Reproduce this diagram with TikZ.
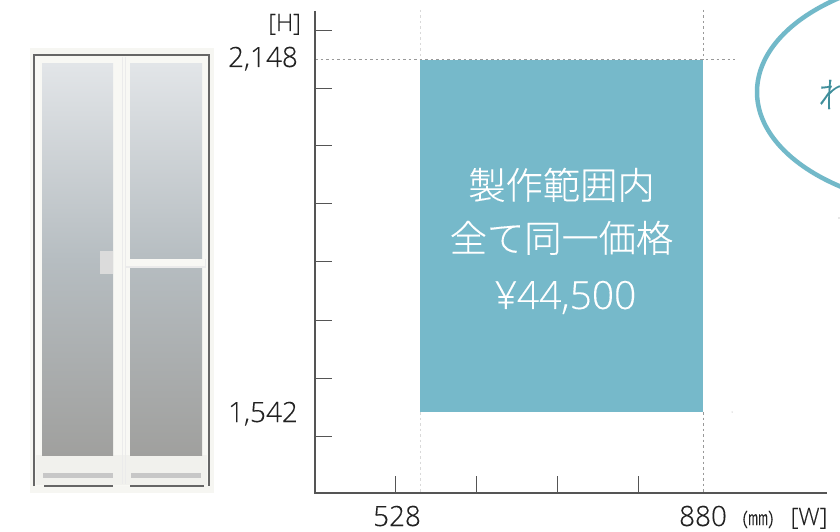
\documentclass[tikz,border=0pt]{standalone}
\usepackage{fontspec}
\setmainfont[FakeBold=0.25]{Open Sans Light}
\newfontfamily\cjk[FakeBold=0.2]{Noto Sans CJK JP Light}
\definecolor{teal1}{HTML}{76B9CA}
\definecolor{teal2}{HTML}{72B9C9}
\definecolor{teal3}{HTML}{3F8E9B}
\definecolor{axisc}{HTML}{555555}
\definecolor{txt}{HTML}{222222}
\definecolor{glassT}{HTML}{E2E5E8}
\definecolor{glassM}{HTML}{B6BDC1}
\definecolor{glassB}{HTML}{A0A09E}
\definecolor{backc}{HTML}{F6F6F2}
\definecolor{framec}{HTML}{F8F8F4}
\definecolor{lowerc}{HTML}{F1F1ED}
\tikzset{
 x=1bp,y=-1bp,
 axisline/.style={draw=axisc,line width=1.5bp},
 tickline/.style={draw=axisc,line width=1bp},
 guide/.style={draw=#1,line width=.9bp,dash pattern=on 2.5bp off 3bp},
 numlabel/.style={font=\fontsize{28}{28}\selectfont,text=txt,inner sep=0pt,anchor=base east},
 unitlabel/.style={font=\fontsize{24}{24}\selectfont,text=txt,inner sep=0pt},
 pricelabel/.style={text=white,inner sep=0pt,anchor=base},
 glass/.style={top color=glassT,bottom color=glassB,middle color=glassM},
}
\begin{document}
\begin{tikzpicture}
\clip (0,0) rectangle (840,532);
\fill[white] (0,0) rectangle (840,532);
% door
\fill[backc] (30,48) rectangle (214,493);
\fill[framec] (34,55) rectangle (209,486);
\fill[lowerc] (36,455) rectangle (207,485);
\draw[draw=black!60,line width=1.2bp] (34,486) -- (34,55) -- (209,55) -- (209,486);
\draw[draw=black!60,line width=1.2bp] (44,486) -- (113,486) (130,486) -- (204,486);
\fill[glass] (42,64) rectangle (113,455);
\fill[glass] (130,64) rectangle (202,455);
\draw[draw=black!8,line width=1bp] (122,57) -- (122,484) (125,57) -- (125,484);
\fill[black!14] (100,251) rectangle (113,274);
\fill[black!8] (125,259) rectangle (206,268);
\fill[framec] (126,259.5) rectangle (205,266.5);
\fill[black!22] (43,473) rectangle (113,478);
\fill[black!22] (131,473) rectangle (201,478);
% axes
\draw[tickline] (315,31) -- (332,31) (315,88.5) -- (332,88.5) (315,146) -- (332,146)
 (315,204) -- (332,204) (315,262) -- (332,262) (315,320) -- (332,320)
 (315,378) -- (332,378) (315,436) -- (332,436);
\draw[tickline] (395.5,476) -- (395.5,493) (476.5,476) -- (476.5,493)
 (557.5,476) -- (557.5,493) (638,476) -- (638,493);
\draw[guide=black!15] (420,10) -- (420,60) (420,412) -- (420,493);
\draw[guide=black!40] (703,10) -- (703,60) (703,412) -- (703,493);
\draw[guide=black!40] (315,59.5) -- (735,59.5);
\node[fill=teal1,minimum width=283bp,minimum height=352bp,inner sep=0pt,anchor=north west] (range) at (420,60) {};
\draw[axisline] (315,11) -- (315,493) -- (827,493);
% labels
\node[unitlabel,anchor=base east] (hlabel) at (301,31) {[H]};
\node[numlabel] (hmax) at (298,67) {2,148};
\node[numlabel] (hmin) at (298,422) {1,542};
\node[numlabel,anchor=base] (wmin) at (397,526) {528};
\node[numlabel,anchor=base] (wmax) at (703,526) {880};
\node[inner sep=0pt,anchor=base,text=txt] (mm) at (758,525) {\fontsize{20}{20}\selectfont(\cjk ㎜\rmfamily)};
\node[unitlabel,anchor=base] (wlabel) at (809,525) {[W]};
\node[pricelabel,font=\fontsize{37.4}{37}\selectfont\cjk] (line1) at (561.5,199) {製作範囲内};
\node[pricelabel,font=\fontsize{37.4}{37}\selectfont\cjk] (line2) at (561.5,252) {全て同一価格};
\node[pricelabel,font=\fontsize{39}{39}\selectfont] (line3) at (565.5,309) {¥44,500};
% ellipse
\draw[draw=teal2,line width=4.5bp] (960,92) ellipse [x radius=203,y radius=117];
\node[inner sep=0pt,anchor=base west,text=teal3,font=\fontsize{36}{36}\selectfont\cjk] (cut) at (818,108) {れ};
\fill[black!40] (839,218) circle (.7);
\fill[black!40] (732,412) circle (.5);
\end{tikzpicture}
\end{document}
